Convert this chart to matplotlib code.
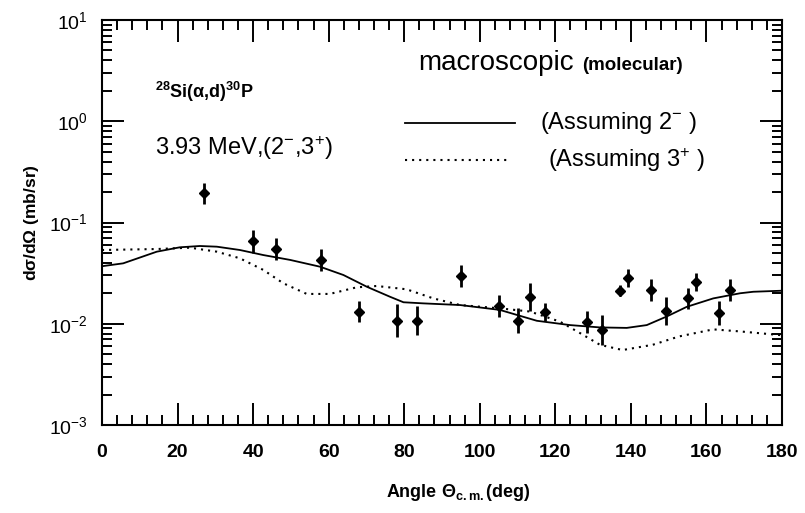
import matplotlib
matplotlib.use("Agg")
import matplotlib.pyplot as plt
import numpy as np
from matplotlib.ticker import FixedLocator, LogLocator, NullFormatter


# measured points, 3.93 MeV state
ANGLES = [27.1, 39.9, 46.1, 58.0, 68.1, 78.1, 83.3, 95.1, 105.1, 110.1, 113.2,
	117.2, 128.4, 132.3, 137.1, 139.2, 145.2, 149.3, 155.2, 157.2, 163.3, 166.3]
DSIGMA = [0.194, 0.0656, 0.0547, 0.0427, 0.0132, 0.0107, 0.0107, 0.0297, 0.0150,
	0.0107, 0.0185, 0.0130, 0.0104, 0.0087, 0.0212, 0.0281, 0.0215, 0.0133,
	0.0178, 0.0258, 0.0127, 0.0215]
REL_ERR = [0.26, 0.30, 0.28, 0.28, 0.28, 0.46, 0.39, 0.28, 0.28, 0.33, 0.38,
	0.23, 0.28, 0.41, 0.13, 0.23, 0.28, 0.37, 0.26, 0.23, 0.32, 0.28]

# macroscopic calculation assuming 2-
SOLID_ANGLES = [0.0, 5.6, 14.5, 20.6, 25.9, 30.4, 36.5, 42.7, 49.8, 57.7, 63.9,
	70.1, 76.2, 79.8, 85.0, 94.8, 105.3, 115.1, 123.9, 131.8, 138.9, 144.2,
	149.5, 154.8, 161.8, 168.9, 172.4, 180.0]
SOLID_VALUES = [0.037, 0.0395, 0.0515, 0.0569, 0.0586, 0.0577, 0.0535, 0.0477,
	0.0427, 0.0366, 0.0303, 0.0232, 0.0185, 0.0163, 0.0159, 0.0153, 0.0137,
	0.0107, 0.0097, 0.0092, 0.0091, 0.0097, 0.0118, 0.0147, 0.0178, 0.0200,
	0.0207, 0.0212]

# macroscopic calculation assuming 3+
DOTTED_ANGLES = [0.0, 14.5, 23.3, 30.4, 36.5, 42.7, 48.0, 54.2, 60.3, 67.4, 72.7,
	80.6, 87.7, 94.8, 105.3, 113.3, 121.2, 126.5, 131.8, 137.8, 145.8, 152.8,
	161.8, 168.9, 180.0]
DOTTED_VALUES = [0.0535, 0.0547, 0.0564, 0.0515, 0.0443, 0.0340, 0.0251, 0.0197,
	0.0197, 0.0229, 0.0236, 0.0219, 0.0178, 0.0153, 0.0142, 0.0132, 0.0105,
	0.0081, 0.0062, 0.0055, 0.0062, 0.0075, 0.0088, 0.0084, 0.0077]

FONT = ["Liberation Sans", "DejaVu Sans"]
DOTS = (0, (1, 2.4))


def drawData(ax):
	y = np.asarray(DSIGMA)
	r = np.asarray(REL_ERR)
	lower = y - y / (1 + r)
	upper = y * (1 + r) - y
	ax.errorbar(ANGLES, y, yerr=[lower, upper], fmt="D", color="black",
		markersize=5.5, elinewidth=2.0, capsize=0, zorder=3)
	ax.plot(SOLID_ANGLES, SOLID_VALUES, color="black", linewidth=1.3)
	ax.plot(DOTTED_ANGLES, DOTTED_VALUES, color="black", linewidth=1.5,
		linestyle=DOTS)


def styleAxes(ax):
	ax.set_yscale("log")
	ax.set_xlim(0, 180)
	ax.set_ylim(1e-3, 1e1)
	ax.xaxis.set_major_locator(FixedLocator(np.arange(0, 181, 20)))
	ax.xaxis.set_minor_locator(FixedLocator(np.arange(0, 181, 4)))
	ax.yaxis.set_major_locator(LogLocator(base=10, numticks=10))
	ax.yaxis.set_minor_locator(LogLocator(base=10, subs=np.arange(2, 10), numticks=20))
	ax.yaxis.set_minor_formatter(NullFormatter())
	ax.tick_params(which="both", direction="in", top=True, right=True, width=1.4)
	ax.tick_params(which="major", length=16)
	ax.tick_params(which="minor", length=7)
	ax.tick_params(axis="x", which="major", labelsize=14, pad=14)
	ax.tick_params(axis="y", which="major", labelsize=14, pad=10)
	for label in ax.get_xticklabels():
		label.set_fontweight("bold")
	for spine in ax.spines.values():
		spine.set_linewidth(1.5)
	ax.set_xlabel(r"Angle $\Theta_{c.m.}$(deg)", fontsize=13, fontweight="bold")
	ax.xaxis.set_label_coords(0.524, -0.14)
	ax.set_ylabel(r"d$\sigma$/d$\Omega$ (mb/sr)", fontsize=12.5, fontweight="bold")
	ax.yaxis.set_label_coords(-0.09, 0.5)


def drawAnnotations(ax):
	tr = ax.transAxes
	ax.text(0.078, 0.807, r"$^{28}$Si($\alpha$,d)$^{30}$P", fontsize=13,
		fontweight="bold", transform=tr)
	ax.text(0.078, 0.667, r"3.93 MeV,(2$^{-}$,3$^{+}$)", fontsize=17,
		transform=tr)
	ax.text(0.465, 0.877, "macroscopic", fontsize=20, transform=tr)
	ax.text(0.706, 0.877, "(molecular)", fontsize=13.5, fontweight="bold",
		transform=tr)
	ax.plot([0.446, 0.607], [0.746, 0.746], color="black", linewidth=1.3,
		transform=tr)
	ax.plot([0.446, 0.600], [0.654, 0.654], color="black", linewidth=1.5,
		linestyle=DOTS, transform=tr)
	ax.text(0.644, 0.746, r"(Assuming 2$^{-}$ )", fontsize=17, va="center",
		transform=tr)
	ax.text(0.656, 0.654, r"(Assuming 3$^{+}$ )", fontsize=17, va="center",
		transform=tr)


def main():
	plt.rcParams["font.family"] = FONT
	plt.rcParams["mathtext.default"] = "regular"

	fig = plt.figure(figsize=(8.05, 5.13), dpi=100)
	ax = fig.add_axes([102 / 805, 1 - 425 / 513, 680 / 805, 405 / 513])
	drawData(ax)
	styleAxes(ax)
	drawAnnotations(ax)
	fig.savefig("out.png", dpi=100)


if __name__ == "__main__":
	main()
